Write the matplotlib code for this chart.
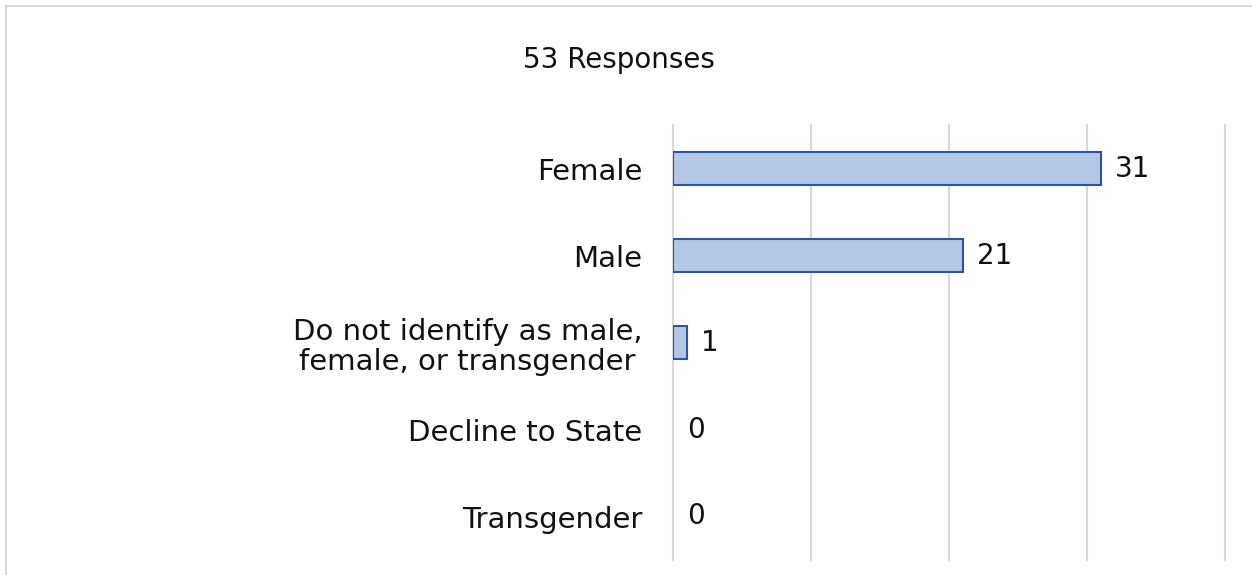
import matplotlib
matplotlib.use("Agg")
import matplotlib.pyplot as plt
from matplotlib.lines import Line2D

categories = [
    "Female",
    "Male",
    "Do not identify as male,\nfemale, or transgender",
    "Decline to State",
    "Transgender",
]
counts = [31, 21, 1, 0, 0]
title = "53 Responses"

plt.rcParams["font.family"] = ["DejaVu Sans"]
FS = 20

fig = plt.figure(figsize=(12.52, 5.75), dpi=100)
ax = fig.add_axes([673 / 1252, 1 - 560 / 575, (1225 - 673) / 1252, 435 / 575])

ypos = list(range(len(categories)))
edge_w = [1.5 if v > 0 else 0 for v in counts]
ax.barh(ypos, counts, height=0.37, color="#B4C7E7", edgecolor="#2F5597",
        linewidth=edge_w, zorder=3)
for y, v in zip(ypos, counts):
    ax.annotate(str(v), xy=(v, y), xytext=(10, 0), textcoords="offset points",
                ha="left", va="center", fontsize=FS, color="#111111")

ax.set_xlim(0, 40)
ax.set_ylim(len(categories) - 0.5, -0.5)
ax.set_xticks([0, 10, 20, 30, 40])
ax.xaxis.grid(True, color="#D9D9D9", linewidth=1.5, zorder=0)
for gl in ax.get_xgridlines():
    gl.set_clip_on(False)
ax.tick_params(axis="x", length=0, labelbottom=False)
ax.tick_params(axis="y", length=0, pad=22)
ax.set_yticks(ypos)
ax.set_yticklabels(categories, fontsize=21, color="#111111")
for lbl in ax.get_yticklabels():
    lbl.set_multialignment("center")
    lbl.set_linespacing(1.1)
for s in ax.spines.values():
    s.set_visible(False)

fig.text(619 / 1252, 1 - 60 / 575, title, ha="center", va="center",
         fontsize=FS, color="#111111")

# chart frame (only top and left edges are visible in the crop)
fig.add_artist(Line2D([6 / 1252, 1], [1 - 6 / 575, 1 - 6 / 575],
                      transform=fig.transFigure, color="#D9D9D9", lw=1.5))
fig.add_artist(Line2D([6 / 1252, 6 / 1252], [1 - 6 / 575, 0],
                      transform=fig.transFigure, color="#D9D9D9", lw=1.5))

fig.savefig("out.png", dpi=100)
